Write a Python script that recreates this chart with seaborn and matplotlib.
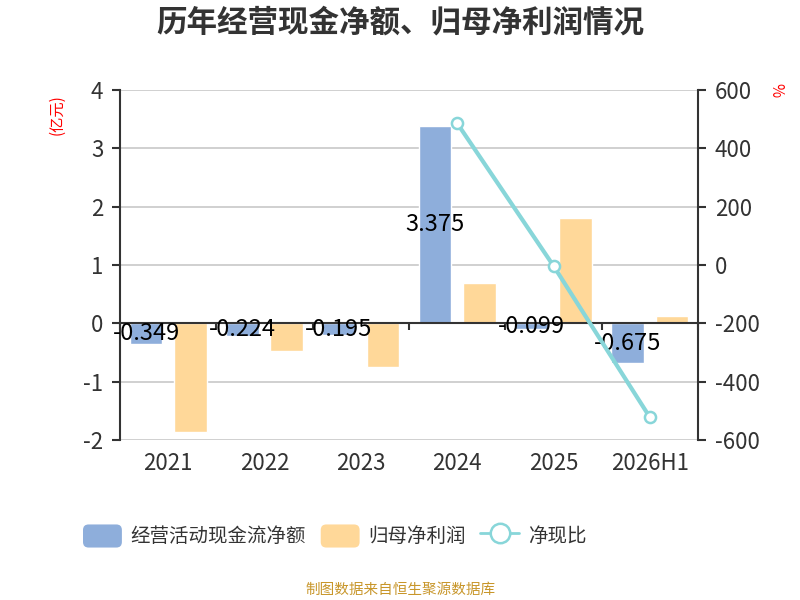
import numpy as np
import pandas as pd
import matplotlib
matplotlib.use("Agg")
import matplotlib.pyplot as plt
import seaborn as sns
from matplotlib.patches import FancyBboxPatch, Rectangle
from matplotlib.lines import Line2D
from matplotlib.legend_handler import HandlerPatch

# ---- data ----
years = ["2021", "2022", "2023", "2024", "2025", "2026H1"]
op_cash = [-0.349, -0.224, -0.195, 3.375, -0.099, -0.675]
net_profit = [-1.86, -0.47, -0.74, 0.69, 1.80, 0.13]
cash_ratio = [np.nan, np.nan, np.nan, 486, -3, -522]
series_names = ["经营活动现金流净额", "归母净利润", "净现比"]
left_ticks = [-2, -1, 0, 1, 2, 3, 4]
right_ticks = [-600, -400, -200, 0, 200, 400, 600]

blue = "#8EAEDB"
orange = "#FFD899"
teal = "#88D6D9"
txt = "#333333"

sns.set_theme(style="white")
plt.rcParams["font.family"] = ["Noto Sans CJK SC", "DejaVu Sans"]
plt.rcParams["axes.unicode_minus"] = False

df = pd.DataFrame({
    "year": years * 2,
    "value": op_cash + net_profit,
    "series": [series_names[0]] * 6 + [series_names[1]] * 6,
})

fig = plt.figure(figsize=(8, 6), dpi=100)
ax = fig.add_axes([0.15, 1 - 440 / 600, (698 - 120) / 800, 350 / 600])

sns.barplot(data=df, x="year", y="value", hue="series", order=years,
            hue_order=series_names[:2], palette=[blue, orange],
            width=0.92, gap=0.26, ax=ax, legend=False, saturation=1)

ax.set_xlim(-0.5, len(years) - 0.5)
ax.set_ylim(left_ticks[0], left_ticks[-1])
ax.set_yticks(left_ticks)
ax.set_yticklabels([str(t) for t in left_ticks])
ax.yaxis.grid(True, color="#C8C8C8", linewidth=1.2)
ax.set_axisbelow(True)
ax.set_xlabel("")
ax.set_ylabel("")
for s in ["top", "right", "bottom"]:
    ax.spines[s].set_visible(False)
ax.spines["left"].set_color(txt)
ax.spines["left"].set_linewidth(1.5)
ax.tick_params(axis="y", direction="out", length=6, width=1.5, color=txt,
               labelsize=16, labelcolor=txt, left=True, pad=6)
ax.tick_params(axis="x", length=0, labelsize=16, labelcolor=txt, pad=9)

# bar labels for operating cash flow
ax.bar_label(ax.containers[0], labels=[f"{v:.3f}" for v in op_cash],
             label_type="center", fontsize=17, color="black", zorder=6)

# zero axis line with category-boundary ticks
sec = ax.secondary_xaxis((0 - left_ticks[0]) / (left_ticks[-1] - left_ticks[0]))
sec.set_zorder(3)
sec.spines["bottom"].set_color(txt)
sec.spines["bottom"].set_linewidth(1.5)
sec.set_xticks(np.arange(len(years) + 1) - 0.5)
sec.set_xticklabels([])
sec.tick_params(axis="x", direction="out", length=5, width=1.5, color=txt)

# right axis: ratio line
ax2 = ax.twinx()
sns.lineplot(x=np.arange(len(years)), y=cash_ratio, ax=ax2, color=teal,
             linewidth=3, marker="o", markersize=8, markerfacecolor="white",
             markeredgecolor=teal, markeredgewidth=1.8, legend=False)
ax2.set_ylim(right_ticks[0], right_ticks[-1])
ax2.set_yticks(right_ticks)
ax2.set_yticklabels([str(t) for t in right_ticks])
ax2.grid(False)
for s in ["top", "left", "bottom"]:
    ax2.spines[s].set_visible(False)
ax2.spines["right"].set_color(txt)
ax2.spines["right"].set_linewidth(1.5)
ax2.tick_params(axis="y", direction="out", length=6, width=1.5, color=txt,
                labelsize=16, labelcolor=txt, right=True, pad=6)

# axis unit labels
fig.text(57 / 800, 1 - 115 / 600, "(亿元)", color="red", fontsize=11,
         rotation=90, ha="center", va="center")
fig.text(776 / 800, 1 - 90 / 600, "%", color="red", fontsize=11,
         rotation=-90, ha="center", va="center")

# title
fig.text(0.5, 1 - 22 / 600, "历年经营现金净额、归母净利润情况", fontsize=22,
         fontweight="bold", color=txt, ha="center", va="center")


class RoundPatchHandler(HandlerPatch):
    def create_artists(self, legend, orig_handle, xdescent, ydescent,
                       width, height, fontsize, trans):
        p = FancyBboxPatch((-xdescent, -ydescent), width, height,
                           boxstyle="round,pad=0,rounding_size=4",
                           facecolor=orig_handle.get_facecolor(),
                           edgecolor="none", transform=trans)
        return [p]


# legend
handles = [
    Rectangle((0, 0), 1, 1, facecolor=blue, edgecolor="none"),
    Rectangle((0, 0), 1, 1, facecolor=orange, edgecolor="none"),
    Line2D([0], [0], color=teal, linewidth=2, marker="o", markersize=14,
           markerfacecolor="white", markeredgecolor=teal, markeredgewidth=1.8),
]
leg = fig.legend(handles, series_names, loc="center left", ncol=3,
                 bbox_to_anchor=(83 / 800, 1 - 536 / 600), frameon=False,
                 fontsize=14, handlelength=2.0, handleheight=1.45,
                 columnspacing=0.75, handletextpad=0.45, labelcolor=txt,
                 borderpad=0, borderaxespad=0,
                 handler_map={Rectangle: RoundPatchHandler()})

# footer
fig.text(0.5, 1 - 590 / 600, "制图数据来自恒生聚源数据库", fontsize=10.5,
         color="#C8962A", ha="center", va="center")

fig.savefig("out.png", dpi=100)
